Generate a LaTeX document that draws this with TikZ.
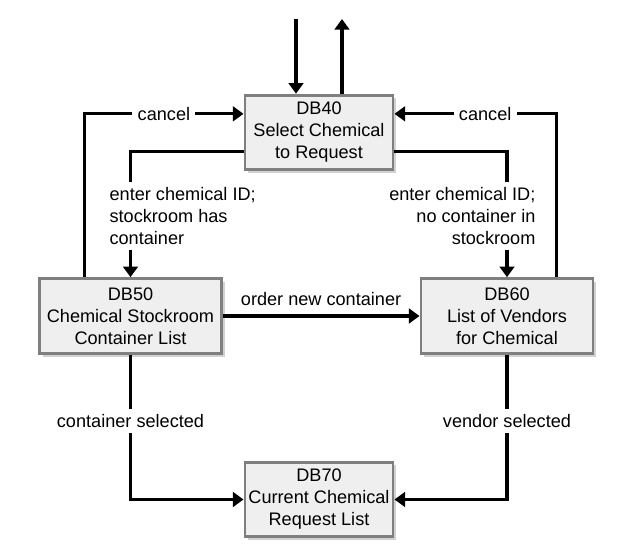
\documentclass[tikz,border=0pt]{standalone}
\usepackage{fontspec}
\setmainfont{Liberation Sans}
\usetikzlibrary{arrows.meta,shadows}
\definecolor{boxgray}{HTML}{EFEFEF}
\definecolor{edgegray}{HTML}{7F7F7F}
\begin{document}
\begin{tikzpicture}[
    x=0.75pt, y=-0.75pt,
    font=\fontsize{13.6}{16.5}\selectfont,
    box/.style={rectangle, draw=edgegray, line width=2.2pt, fill=boxgray, align=center,
        minimum height=56pt, inner sep=2pt,
        drop shadow={shadow xshift=2.5pt, shadow yshift=-2.5pt, fill=black!18, opacity=1}},
    arrow/.style={-{Triangle[length=8pt, width=11pt]}, line width=2.3pt},
    lbl/.style={fill=white, inner sep=4pt}
]
\useasboundingbox (0,0) rectangle (644,556);

% Screens
\node[box, minimum width=111pt] (db40) at (319,132.5) {DB40\\Select Chemical\\to Request};
\node[box, minimum width=136pt] (db50) at (130.5,316) {DB50\\Chemical Stockroom\\Container List};
\node[box, minimum width=129pt] (db60) at (507,316) {DB60\\List of Vendors\\for Chemical};
\node[box, minimum width=111pt] (db70) at (319,499.5) {DB70\\Current Chemical\\Request List};

% Entry and exit
\coordinate (in) at (296,19);
\coordinate (out) at (342,19);
\draw[arrow] (in) -- (in |- db40.north);
\draw[arrow] (out |- db40.north) -- (out);

% Cancel
\draw[arrow] ([xshift=34.5pt]db50.north west) |- node[lbl, pos=0.75] {cancel} ([yshift=14pt]db40.west);
\draw[arrow] ([xshift=-28.5pt]db60.north east) |- node[lbl, pos=0.72] {cancel} ([yshift=14pt]db40.east);

% Enter chemical ID
\draw[arrow] ([yshift=-14pt]db40.west) -| (db50.north);
\draw[arrow] ([yshift=-14pt]db40.east) -| (db60.north);
\node[lbl, align=left, anchor=west] (idL) at (104,216) {enter chemical ID;\\stockroom has\\container};
\node[lbl, align=right, anchor=east] (idR) at (541,216) {enter chemical ID;\\no container in\\stockroom};

% Order
\draw[arrow] (db50) -- node[above=3pt] {order new container} (db60);

% Selected
\draw[arrow] (db50.south) |- node[lbl, pos=0.23] {container selected} (db70.west);
\draw[arrow] (db60.south) |- node[lbl, pos=0.23] {vendor selected} (db70.east);

\end{tikzpicture}
\end{document}
